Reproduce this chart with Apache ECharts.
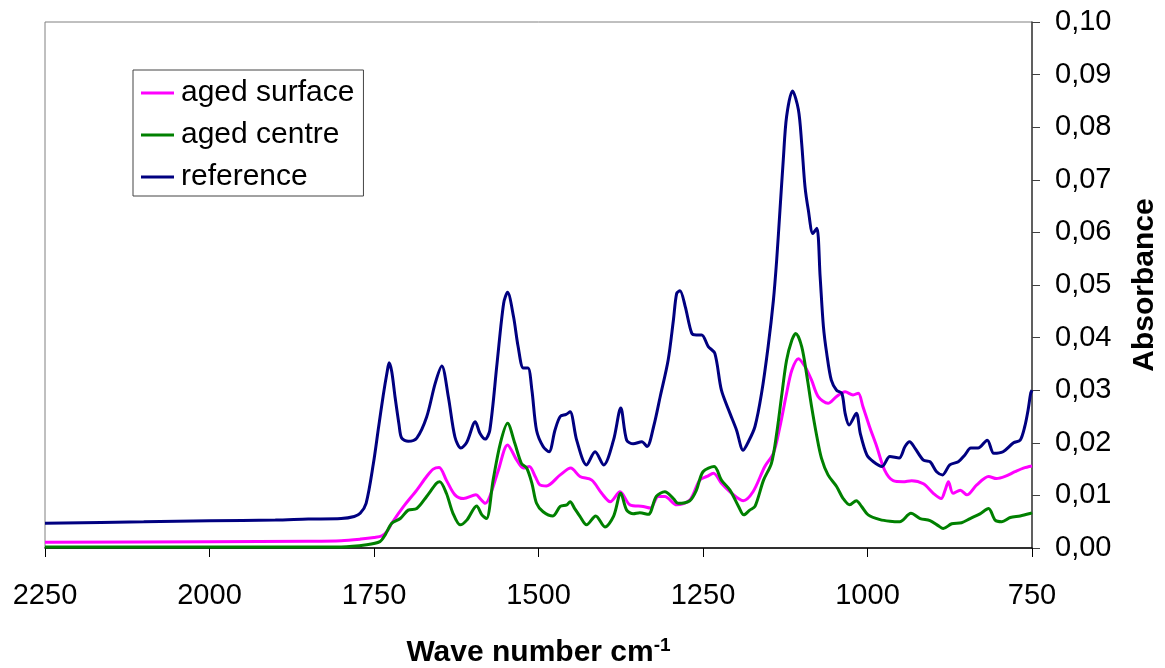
<!DOCTYPE html>
<html>
<head>
<meta charset="utf-8">
<script src="https://cdn.jsdelivr.net/npm/echarts@6/dist/echarts.min.js"></script>
<style>
    html, body { margin: 0; padding: 0; background: #fff; }
    #chart { width: 1165px; height: 668px; }
</style>
</head>
<body>
<div id="chart"></div>
<script>
// wave numbers (cm-1) and absorbance
var refWave = [2250, 2100, 2000, 1900, 1850, 1800, 1780, 1771, 1762, 1751, 1743, 1736, 1730, 1727, 1723, 1718, 1712, 1708, 1698, 1685, 1670, 1657, 1647, 1637, 1627, 1618, 1609, 1596, 1589, 1581, 1574, 1563, 1553, 1547, 1538, 1531, 1523, 1516, 1510, 1503, 1493, 1484, 1475, 1467, 1458, 1452, 1442, 1427, 1414, 1401, 1386, 1375, 1366, 1356, 1343, 1335, 1325, 1315, 1303, 1295, 1290, 1285, 1277, 1267, 1260, 1252, 1242, 1232, 1222, 1209, 1199, 1189, 1181, 1171, 1161, 1151, 1143, 1138, 1133, 1128, 1123, 1114, 1105, 1100, 1095, 1090, 1083, 1077, 1072, 1067, 1062, 1055, 1047, 1039, 1034, 1028, 1017, 1011, 1001, 991, 978, 966, 952, 943, 936, 928, 915, 905, 895, 886, 875, 862, 852, 843, 832, 818, 808, 794, 778, 768, 761, 756, 752, 750];
var refAbs = [0.0047, 0.0050, 0.0052, 0.0053, 0.0055, 0.0056, 0.0060, 0.0066, 0.0085, 0.0160, 0.0230, 0.0290, 0.0335, 0.0352, 0.0335, 0.0287, 0.0235, 0.0209, 0.0203, 0.0209, 0.0249, 0.0313, 0.0346, 0.0287, 0.0211, 0.0190, 0.0201, 0.0240, 0.0218, 0.0207, 0.0224, 0.0351, 0.0465, 0.0486, 0.0440, 0.0383, 0.0342, 0.0342, 0.0300, 0.0224, 0.0193, 0.0183, 0.0224, 0.0250, 0.0254, 0.0259, 0.0205, 0.0158, 0.0183, 0.0158, 0.0205, 0.0266, 0.0205, 0.0198, 0.0202, 0.0193, 0.0231, 0.0288, 0.0357, 0.0433, 0.0484, 0.0489, 0.0459, 0.0408, 0.0405, 0.0405, 0.0383, 0.0370, 0.0300, 0.0256, 0.0224, 0.0186, 0.0202, 0.0231, 0.0294, 0.0383, 0.0471, 0.0548, 0.0643, 0.0738, 0.0820, 0.0869, 0.0833, 0.0769, 0.0687, 0.0643, 0.0598, 0.0608, 0.0516, 0.0421, 0.0370, 0.0319, 0.0300, 0.0294, 0.0256, 0.0234, 0.0256, 0.0218, 0.0177, 0.0164, 0.0155, 0.0174, 0.0171, 0.0193, 0.0202, 0.0190, 0.0167, 0.0164, 0.0145, 0.0139, 0.0158, 0.0164, 0.0177, 0.0190, 0.0190, 0.0205, 0.0180, 0.0183, 0.0200, 0.0205, 0.0231, 0.0262, 0.0294, 0.0300];

var surfWave = [2250, 2000, 1850, 1800, 1770, 1750, 1738, 1730, 1723, 1705, 1685, 1670, 1660, 1651, 1640, 1627, 1614, 1595, 1588, 1581, 1574, 1561, 1547, 1533, 1523, 1514, 1505, 1498, 1488, 1467, 1451, 1437, 1419, 1404, 1391, 1376, 1361, 1341, 1330, 1318, 1308, 1290, 1270, 1255, 1244, 1234, 1222, 1209, 1189, 1174, 1156, 1143, 1133, 1123, 1115, 1105, 1095, 1085, 1075, 1060, 1047, 1034, 1022, 1014, 1007, 997, 986, 974, 961, 946, 933, 915, 900, 888, 882, 877, 870, 859, 849, 834, 816, 804, 791, 776, 763, 750];
var surfAbs = [0.0011, 0.0012, 0.0013, 0.0014, 0.0017, 0.0020, 0.0023, 0.0032, 0.0047, 0.0079, 0.0110, 0.0136, 0.0150, 0.0153, 0.0129, 0.0101, 0.0094, 0.0101, 0.0093, 0.0085, 0.0098, 0.0148, 0.0196, 0.0167, 0.0152, 0.0155, 0.0136, 0.0120, 0.0118, 0.0139, 0.0152, 0.0136, 0.0129, 0.0104, 0.0088, 0.0107, 0.0082, 0.0079, 0.0076, 0.0098, 0.0098, 0.0082, 0.0091, 0.0129, 0.0136, 0.0142, 0.0123, 0.0107, 0.0090, 0.0107, 0.0155, 0.0180, 0.0231, 0.0294, 0.0338, 0.0360, 0.0345, 0.0319, 0.0288, 0.0275, 0.0288, 0.0297, 0.0291, 0.0294, 0.0269, 0.0231, 0.0193, 0.0148, 0.0128, 0.0126, 0.0128, 0.0122, 0.0104, 0.0094, 0.0110, 0.0126, 0.0104, 0.0110, 0.0101, 0.0120, 0.0136, 0.0132, 0.0136, 0.0145, 0.0152, 0.0156];

var centWave = [2250, 2000, 1800, 1761, 1741, 1733, 1723, 1710, 1698, 1685, 1670, 1655, 1650, 1640, 1630, 1619, 1609, 1594, 1586, 1579, 1569, 1558, 1547, 1536, 1526, 1518, 1510, 1503, 1493, 1478, 1467, 1457, 1452, 1445, 1437, 1427, 1413, 1399, 1386, 1375, 1366, 1356, 1346, 1333, 1321, 1308, 1295, 1288, 1270, 1260, 1250, 1233, 1222, 1209, 1196, 1188, 1179, 1171, 1158, 1146, 1138, 1130, 1123, 1115, 1109, 1100, 1092, 1085, 1077, 1070, 1060, 1047, 1037, 1027, 1017, 1009, 999, 981, 966, 951, 934, 920, 905, 892, 885, 872, 857, 844, 829, 816, 806, 796, 783, 768, 752, 750];
var centAbs = [0.0002, 0.0002, 0.0002, 0.0006, 0.0012, 0.0025, 0.0047, 0.0056, 0.0072, 0.0075, 0.0098, 0.0123, 0.0126, 0.0104, 0.0066, 0.0044, 0.0053, 0.0080, 0.0063, 0.0056, 0.0129, 0.0199, 0.0237, 0.0199, 0.0161, 0.0152, 0.0123, 0.0085, 0.0069, 0.0061, 0.0079, 0.0082, 0.0088, 0.0075, 0.0060, 0.0044, 0.0061, 0.0040, 0.0060, 0.0104, 0.0072, 0.0065, 0.0067, 0.0064, 0.0098, 0.0107, 0.0094, 0.0085, 0.0090, 0.0110, 0.0145, 0.0155, 0.0129, 0.0110, 0.0079, 0.0063, 0.0072, 0.0079, 0.0129, 0.0161, 0.0218, 0.0294, 0.0357, 0.0395, 0.0408, 0.0383, 0.0326, 0.0269, 0.0212, 0.0171, 0.0139, 0.0117, 0.0094, 0.0082, 0.0090, 0.0079, 0.0063, 0.0054, 0.0051, 0.0050, 0.0066, 0.0056, 0.0052, 0.0042, 0.0037, 0.0046, 0.0048, 0.0056, 0.0065, 0.0075, 0.0053, 0.0050, 0.0058, 0.0061, 0.0066, 0.0067];

var seriesNames = ["aged surface", "aged centre", "reference"];
var seriesColors = ["#ff00ff", "#008000", "#000080"];

function pairs(xs, ys) {
    var out = [];
    for (var i = 0; i < xs.length; i++) {
        out.push([xs[i], ys[i]]);
    }
    return out;
}

chart();

function chart() {
    var myChart = echarts.init(document.getElementById("chart"));
    var font = "Liberation Sans, Arial, sans-serif";
    var data = [pairs(surfWave, surfAbs), pairs(centWave, centAbs), pairs(refWave, refAbs)];

    var series = [];
    for (var i = 0; i < seriesNames.length; i++) {
        series.push({
            name: seriesNames[i],
            type: "line",
            smooth: 0.3,
            showSymbol: false,
            lineStyle: { color: seriesColors[i], width: 3 },
            itemStyle: { color: seriesColors[i] },
            data: data[i],
        });
    }

    var option = {
        animation: false,
        textStyle: { fontFamily: font },
        grid: {
            left: 45,
            right: 133,
            top: 22,
            bottom: 120,
            containLabel: false,
            outerBoundsMode: "none",
            show: true,
            borderColor: "#808080",
            borderWidth: 1,
        },
        legend: {
            orient: "vertical",
            left: 133,
            top: 70,
            padding: [8, 9, 4, 8],
            itemGap: 12,
            itemWidth: 33,
            itemHeight: 3,
            icon: "rect",
            borderColor: "#444",
            borderWidth: 1,
            textStyle: {
                fontFamily: font,
                fontSize: 30,
                lineHeight: 30,
                color: "#000",
                padding: [0, 0, 0, 2],
            },
            data: seriesNames,
        },
        xAxis: {
            type: "value",
            inverse: true,
            min: 750,
            max: 2250,
            interval: 250,
            name: "Wave number cm{sup|-1}",
            nameLocation: "middle",
            nameGap: 88,
            nameTextStyle: {
                fontFamily: font,
                fontSize: 30,
                fontWeight: "bold",
                color: "#000",
                rich: {
                    sup: {
                        fontFamily: font,
                        fontSize: 19,
                        fontWeight: "bold",
                        color: "#000",
                        verticalAlign: "top",
                        padding: [0, 0, 14, 0],
                    },
                },
            },
            axisLine: { onZero: false, lineStyle: { color: "#000", width: 1.5 } },
            axisTick: { show: true, inside: false, length: 9, lineStyle: { color: "#000" } },
            axisLabel: {
                fontFamily: font,
                fontSize: 29,
                color: "#000",
                margin: 33,
                formatter: function (v) {
                    return String(v);
                },
            },
            splitLine: { show: false },
        },
        yAxis: {
            type: "value",
            position: "right",
            min: 0,
            max: 0.1,
            interval: 0.01,
            name: "Absorbance",
            nameLocation: "middle",
            nameRotate: 90,
            nameGap: 98,
            nameTextStyle: {
                fontFamily: font,
                fontSize: 30,
                fontWeight: "bold",
                color: "#000",
            },
            axisLine: { show: true, lineStyle: { color: "#404040", width: 1.5 } },
            axisTick: { show: true, inside: false, length: 8, lineStyle: { color: "#404040" } },
            axisLabel: {
                fontFamily: font,
                fontSize: 29,
                color: "#000",
                margin: 23,
                formatter: function (v) {
                    return v.toFixed(2).replace(".", ",");
                },
            },
            splitLine: { show: false },
        },
        series: series,
    };

    myChart.setOption(option);
    window.addEventListener("resize", function () {
        myChart.resize();
    });
}
</script>
</body>
</html>
